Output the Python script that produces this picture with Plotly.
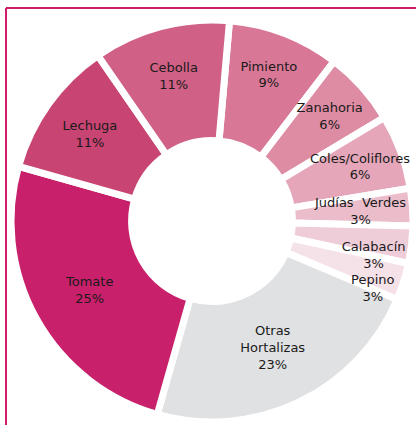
import plotly.graph_objects as go

labels = ["Pimiento", "Zanahoria", "Coles/Coliflores", "Judías  Verdes", "Calabacín",
          "Pepino", "Otras<br>Hortalizas", "Tomate", "Lechuga", "Cebolla"]
values = [9, 6, 6, 3, 3, 3, 23, 25, 11, 11]
colors = ["#D87896", "#DE8CA3", "#E4A6B8", "#EBBDCB", "#EFCDD8",
          "#F5E1E8", "#E0E1E3", "#C8206A", "#C84472", "#D06085"]
outer_labels = ["Zanahoria", "Coles/Coliflores", "Judías  Verdes"]
outer_pull = [0.13, 0.13, 0.0]
edge_labels = ["Calabacín", "Pepino"]
edge_pull = [0.112, 0.168]

font = dict(family="DejaVu Sans", size=13, color="#1a1a1a")
dom = dict(x=[0.0264, 0.9928], y=[0.007, 0.953])
dom_over = dict(x=[0.0685, 0.9507], y=[0.0482, 0.9118])
dom_edge = dict(x=[0.0577, 0.9615], y=[0.0376, 0.9224])
label_tpl = "%{label}<br>%{percent:.0%}"
clear = ["rgba(0,0,0,0)"] * len(labels)

main_text = [("" if (l in outer_labels or l in edge_labels) else label_tpl) for l in labels]
fig = go.Figure(go.Pie(
    labels=labels, values=values, sort=False, direction="clockwise", rotation=5,
    hole=0.40,
    marker=dict(colors=colors, line=dict(color="white", width=7)),
    texttemplate=main_text,
    textposition="inside", insidetextorientation="horizontal",
    textfont=font, domain=dom, showlegend=False, hoverinfo="skip",
))

over_text = [(label_tpl if l in outer_labels else "") for l in labels]
pulls = [outer_pull[outer_labels.index(l)] if l in outer_labels else 0 for l in labels]
fig.add_trace(go.Pie(
    labels=labels, values=values, sort=False, direction="clockwise", rotation=5,
    marker=dict(colors=clear, line=dict(width=0)),
    pull=pulls, texttemplate=over_text,
    textposition="inside", insidetextorientation="horizontal",
    textfont=font, domain=dom_over, showlegend=False, hoverinfo="skip",
))

edge_text = [(label_tpl if l in edge_labels else "") for l in labels]
epulls = [edge_pull[edge_labels.index(l)] if l in edge_labels else 0 for l in labels]
fig.add_trace(go.Pie(
    labels=labels, values=values, sort=False, direction="clockwise", rotation=10,
    marker=dict(colors=clear, line=dict(width=0)),
    pull=epulls, texttemplate=edge_text,
    textposition="inside", insidetextorientation="horizontal",
    textfont=font, domain=dom_edge, showlegend=False, hoverinfo="skip",
))

fig.update_layout(
    width=416, height=425, margin=dict(l=0, r=0, t=0, b=0),
    paper_bgcolor="white", plot_bgcolor="white",
    uniformtext=dict(minsize=13, mode="show"),
    shapes=[
        dict(type="line", xref="paper", yref="paper", x0=6/416, x1=1, y0=1-8/425, y1=1-8/425,
             line=dict(color="#D21C6A", width=2)),
        dict(type="line", xref="paper", yref="paper", x0=6/416, x1=6/416, y0=0, y1=1-8/425,
             line=dict(color="#D21C6A", width=2)),
    ],
)

fig.write_html("out.html", config={"displayModeBar": False},
               post_script="document.body.style.margin='0';")
